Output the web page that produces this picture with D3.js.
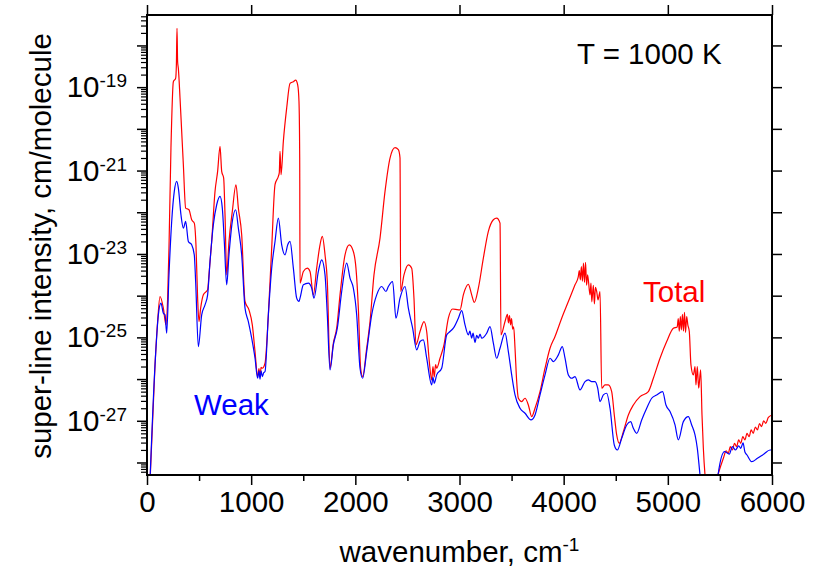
<!DOCTYPE html>
<html>
<head>
<meta charset="utf-8">
<script src="https://cdn.jsdelivr.net/npm/d3@7"></script>
<style>
  body { margin: 0; background: #fff; }
  svg { font-family: "Liberation Sans", Arial, sans-serif; }
</style>
</head>
<body>
<div id="chart"></div>
<script>
// wavenumber (cm-1) and log10 of super-line intensity
var totalWavenumber = [20, 77, 102, 125, 157, 182, 198, 211, 230, 253, 275, 282, 288, 294, 301, 317, 333, 349, 371, 403, 429, 454, 470, 486, 499, 515, 541, 582, 595, 621, 653, 678, 701, 717, 736, 749, 765, 787, 819, 854, 877, 909, 941, 979, 1011, 1037, 1062, 1075, 1085, 1095, 1107, 1133, 1165, 1197, 1229, 1261, 1270, 1277, 1287, 1309, 1341, 1373, 1405, 1427, 1447, 1459, 1466, 1469,
  1501, 1539, 1565, 1597, 1629, 1661, 1683, 1709, 1731, 1757, 1789, 1821, 1853, 1901, 1942, 1981, 2006, 2029, 2051, 2070, 2109, 2141, 2179, 2237, 2285, 2333, 2381, 2413, 2429, 2435, 2467, 2509, 2541, 2563, 2582, 2621, 2659, 2685, 2710, 2733, 2745, 2758, 2770, 2781, 2813, 2851, 2893, 2934, 2989,
  3005, 3037, 3085, 3117, 3142, 3181, 3229, 3277, 3325, 3357, 3389, 3398, 3437, 3460, 3470, 3480, 3490, 3500, 3510, 3520, 3533, 3549, 3565, 3597, 3629, 3661, 3693, 3725, 3773, 3821, 3869, 3917, 3981, 4045, 4109, 4140, 4150, 4160, 4170, 4180, 4190, 4200, 4210, 4220, 4230, 4253, 4262, 4270, 4285, 4295, 4305, 4317, 4330, 4349, 4365, 4397, 4429, 4461, 4486,
  4509, 4534, 4573, 4621, 4669, 4733, 4813, 4861, 4925, 4989, 5053, 5090, 5100, 5110, 5120, 5130, 5140, 5150, 5160, 5170, 5181, 5192, 5206, 5222, 5245, 5261, 5270, 5283, 5296, 5315, 5328, 5341, 5360, 5400,
  5480, 5533, 5560, 5580, 5600, 5620, 5640, 5660, 5680, 5700, 5720, 5740, 5760, 5780, 5800, 5820, 5840, 5860, 5880, 5900, 5920, 5940, 5965, 6000];
var totalLog = [-29, -25.66, -24.62, -24.02, -24.30, -24.70, -24.06, -22.86, -20.46, -18.87, -18.79, -18.47, -17.59, -18.39, -18.55, -19.26, -20.06, -20.86, -21.90, -21.94, -22.18, -22.26, -22.78, -24.06, -24.62, -24.30, -23.98, -23.86, -23.50, -22.70, -21.50, -21.02, -20.42, -21.02, -21.18, -22.06, -23.50, -22.70, -21.98, -21.34, -21.90, -22.54, -24.14, -24.34, -24.70, -25.34, -25.94, -25.75, -25.95, -25.72, -25.74, -25.62, -24.46, -22.86, -21.34, -21.14, -21.05, -20.54, -21.10, -20.30, -19.50, -18.91, -18.87, -18.83, -18.95, -19.34, -20.70, -23.70,
  -23.42, -23.34, -23.42, -23.98, -23.34, -22.78, -22.58, -23.02, -23.66, -25.74, -25.14, -24.78, -23.98, -23.02, -22.78, -22.94, -23.34, -24.30, -25.74, -25.94, -25.26, -24.62, -23.50, -22.62, -21.50, -20.70, -20.45, -20.50, -20.70, -23.90, -23.50, -23.26, -23.34, -24.06, -25.18, -24.86, -24.62, -24.86, -25.58, -26.02, -25.70, -25.95, -25.65, -25.74, -25.50, -25.18, -24.54, -24.32, -24.34,
  -24.34, -23.98, -23.73, -23.98, -24.16, -23.82, -23.10, -22.46, -22.18, -22.14, -22.26, -24.94, -24.62, -24.45, -24.65, -24.48, -24.70, -24.55, -24.80, -24.75, -25.26, -26.06, -26.46, -26.54, -26.46, -26.62, -26.90, -26.70, -26.30, -25.74, -25.26, -24.98, -24.54, -24.14, -23.74, -23.55, -23.40, -23.62, -23.30, -23.65, -23.22, -23.68, -23.20, -23.75, -23.50, -23.98, -23.70, -24.15, -23.75, -24.20, -23.80, -23.90, -24.10, -23.90, -26.22, -26.14, -26.14, -26.30, -26.86,
  -27.34, -27.54, -27.26, -26.86, -26.62, -26.42, -26.30, -25.98, -25.50, -25.10, -24.78, -24.75, -24.55, -24.85, -24.50, -24.82, -24.45, -24.85, -24.40, -24.88, -24.50, -24.70, -24.86, -25.66, -25.90, -25.70, -26.14, -25.70, -26.22, -25.78, -26.86, -27.66, -28.40, -29,
  -28.30, -27.90, -27.72, -27.78, -27.62, -27.70, -27.54, -27.62, -27.46, -27.54, -27.38, -27.46, -27.30, -27.38, -27.22, -27.30, -27.15, -27.22, -27.07, -27.14, -27.00, -27.06, -26.92, -26.86];

var weakWavenumber = [20, 77, 109, 134, 157, 173, 189, 211, 237, 262, 285, 301, 326, 349, 371, 397, 429, 454, 467, 493, 525, 557, 582, 605, 637, 669, 701, 723, 742, 765, 787, 819, 851, 877, 909, 941, 973, 1005, 1037, 1062, 1075, 1085, 1095, 1107, 1120, 1133, 1165, 1197, 1229, 1261, 1293, 1325, 1351, 1373, 1405, 1437, 1459,
  1469, 1501, 1549, 1581, 1603, 1645, 1677, 1709, 1731, 1757, 1789, 1827, 1869, 1917, 1949, 1981, 2013, 2045, 2070, 2109, 2157, 2205, 2253, 2294, 2317, 2358, 2390, 2429, 2477, 2509, 2550, 2589, 2621, 2653, 2685, 2733, 2745, 2758, 2781, 2829, 2877, 2909, 2941, 2989,
  3021, 3053, 3085, 3100, 3117, 3130, 3149, 3165, 3181, 3197, 3213, 3261, 3293, 3325, 3357, 3389, 3437, 3469, 3501, 3533, 3581, 3629, 3686, 3725, 3773, 3821, 3869, 3901, 3949, 3987, 4013, 4045, 4077, 4109, 4157, 4205, 4237, 4269, 4301, 4327, 4349, 4381, 4413, 4445, 4486,
  4515, 4557, 4605, 4643, 4669, 4701, 4749, 4797, 4845, 4893, 4950, 4982, 5021, 5069, 5101, 5149, 5197, 5229, 5261, 5283, 5309, 5340,
  5470, 5482, 5545, 5590, 5620, 5650, 5680, 5700, 5722, 5740, 5760, 5805, 5860, 5920, 5981, 6000];
var weakLog = [-29, -25.66, -24.46, -24.18, -24.42, -24.46, -24.90, -23.50, -22.22, -21.50, -21.26, -21.42, -22.06, -22.38, -22.22, -22.70, -22.78, -23.02, -23.66, -25.22, -24.46, -24.22, -23.98, -23.18, -22.30, -21.82, -21.62, -21.90, -22.70, -23.74, -23.02, -22.22, -21.94, -22.38, -23.02, -24.30, -24.62, -25.02, -25.50, -25.98, -25.80, -26.00, -25.80, -25.94, -25.85, -25.82, -24.46, -23.34, -22.70, -22.14, -22.78, -23.02, -22.78, -22.70, -23.34, -24.06, -24.14,
  -24.06, -23.74, -23.70, -23.82, -24.06, -23.42, -23.14, -23.50, -24.46, -25.78, -25.18, -24.78, -23.90, -23.22, -23.58, -23.82, -24.46, -25.74, -25.98, -25.34, -24.46, -23.98, -23.78, -23.90, -23.78, -23.66, -24.54, -24.06, -23.78, -24.30, -24.78, -25.30, -25.10, -25.06, -25.50, -26.14, -25.95, -26.10, -25.90, -25.74, -24.94, -24.86, -24.78, -24.54,
  -24.36, -24.70, -24.94, -24.85, -25.02, -24.90, -25.12, -24.95, -25.02, -24.92, -25.02, -24.90, -24.74, -25.14, -25.50, -25.26, -24.90, -25.34, -25.90, -26.38, -26.70, -26.82, -26.98, -26.86, -26.38, -25.90, -25.50, -25.58, -25.42, -25.22, -25.50, -25.90, -25.98, -25.94, -26.26, -26.06, -26.02, -26.06, -26.06, -26.22, -26.54, -26.38, -26.34, -26.70, -27.58,
  -27.70, -27.42, -27.10, -27.02, -27.18, -27.30, -26.98, -26.70, -26.46, -26.38, -26.30, -26.62, -26.78, -27.10, -27.46, -27.02, -26.90, -27.10, -27.34, -27.66, -28.30, -29,
  -29, -28.30, -27.74, -27.80, -27.62, -27.70, -27.60, -27.66, -27.53, -27.75, -27.82, -27.98, -27.90, -27.80, -27.70, -27.70];

var xTicks = [0, 1000, 2000, 3000, 4000, 5000, 6000];
var xMinorTicks = [500, 1500, 2500, 3500, 4500, 5500];
var yDecades = [-28, -27, -26, -25, -24, -23, -22, -21, -20, -19, -18];
var yLabelExps = [-27, -25, -23, -21, -19];

var W = 828, H = 575;
var padL = 147, padR = 772, padT = 15, padB = 475;
var fs = 29.5;

var svg = d3.select("#chart").append("svg")
  .attr("width", W)
  .attr("height", H);

var x = d3.scaleLinear().domain([0, 6000]).range([padL, padR]);
var y = d3.scaleLog().domain([Math.pow(10, -28.3), Math.pow(10, -17.27)]).range([padB, padT]);

svg.append("clipPath").attr("id", "clip")
  .append("rect")
  .attr("x", padL).attr("y", padT)
  .attr("width", padR - padL).attr("height", padB - padT);

// comb ticks: 2..9 x 10^n inside the range
var combTicks = [];
yDecades.concat([-29]).forEach(function (e) {
  for (var k = 2; k <= 9; k++) {
    var v = k * Math.pow(10, e);
    if (v > y.domain()[0] && v < y.domain()[1]) combTicks.push(v);
  }
});
var decadeVals = yDecades.map(function (e) { return Math.pow(10, e); });

function clean(g) {
  g.select(".domain").remove();
  g.selectAll(".tick line").attr("stroke", "#000").attr("stroke-width", 1.5);
}

// left axis
svg.append("g").attr("transform", "translate(" + padL + ",0)")
  .call(d3.axisLeft(y).tickValues(decadeVals).tickSize(10).tickFormat(""))
  .call(clean);
svg.append("g").attr("transform", "translate(" + padL + ",0)")
  .call(d3.axisLeft(y).tickValues(combTicks).tickSize(6).tickFormat(""))
  .call(clean)
  .selectAll(".tick line").attr("stroke-width", 1.2);

// right axis
svg.append("g").attr("transform", "translate(" + padR + ",0)")
  .call(d3.axisRight(y).tickValues(decadeVals).tickSize(10).tickFormat(""))
  .call(clean);

// top axis
svg.append("g").attr("transform", "translate(0," + padT + ")")
  .call(d3.axisTop(x).tickValues(xTicks).tickSize(10).tickFormat(""))
  .call(clean);

// bottom axis
svg.append("g").attr("transform", "translate(0," + padB + ")")
  .call(d3.axisBottom(x).tickValues(xTicks).tickSize(10).tickPadding(6).tickFormat(d3.format("d")))
  .call(clean)
  .selectAll("text")
  .attr("font-size", fs)
  .attr("fill", "#000")
  .attr("font-family", "Liberation Sans, Arial, sans-serif");
svg.append("g").attr("transform", "translate(0," + padB + ")")
  .call(d3.axisBottom(x).tickValues(xMinorTicks).tickSize(6).tickFormat(""))
  .call(clean);

// y tick labels 10^n
var ylab = svg.append("g").selectAll("text")
  .data(yLabelExps)
  .enter().append("text")
  .attr("x", 127)
  .attr("y", function (d) { return y(Math.pow(10, d)) + 10; })
  .attr("text-anchor", "end")
  .attr("font-size", fs)
  .attr("fill", "#000");
ylab.append("tspan").text("10");
ylab.append("tspan").attr("dy", -10).attr("font-size", 19).text(function (d) { return String(d); });

// curves
var line = d3.line()
  .curve(d3.curveMonotoneX)
  .x(function (d) { return x(d[0]); })
  .y(function (d) { return y(Math.pow(10, d[1])); });

var plot = svg.append("g").attr("clip-path", "url(#clip)");
plot.append("path")
  .datum(d3.zip(totalWavenumber, totalLog))
  .attr("d", line)
  .attr("fill", "none")
  .attr("stroke", "#ff0000")
  .attr("stroke-width", 1.2);
plot.append("path")
  .datum(d3.zip(weakWavenumber, weakLog))
  .attr("d", line)
  .attr("fill", "none")
  .attr("stroke", "#0000ff")
  .attr("stroke-width", 1.2);

// frame
svg.append("rect")
  .attr("x", padL).attr("y", padT)
  .attr("width", padR - padL).attr("height", padB - padT)
  .attr("fill", "none")
  .attr("stroke", "#000")
  .attr("stroke-width", 2);

// annotations
svg.append("text").attr("x", 577).attr("y", 64)
  .attr("font-size", fs).attr("fill", "#000").text("T = 1000 K");
svg.append("text").attr("x", 643).attr("y", 302)
  .attr("font-size", fs).attr("fill", "#ff0000").text("Total");
svg.append("text").attr("x", 194).attr("y", 415)
  .attr("font-size", fs).attr("fill", "#0000ff").text("Weak");

// axis titles
var xt = svg.append("text")
  .attr("x", (padL + padR) / 2)
  .attr("y", 562)
  .attr("text-anchor", "middle")
  .attr("font-size", fs)
  .attr("fill", "#000");
xt.append("tspan").text("wavenumber, cm");
xt.append("tspan").attr("dy", -11).attr("font-size", 19).text("-1");

svg.append("text")
  .attr("transform", "translate(51," + ((padT + padB) / 2 + 1) + ") rotate(-90)")
  .attr("text-anchor", "middle")
  .attr("font-size", fs)
  .attr("fill", "#000")
  .text("super-line intensity, cm/molecule");
</script>
</body>
</html>
